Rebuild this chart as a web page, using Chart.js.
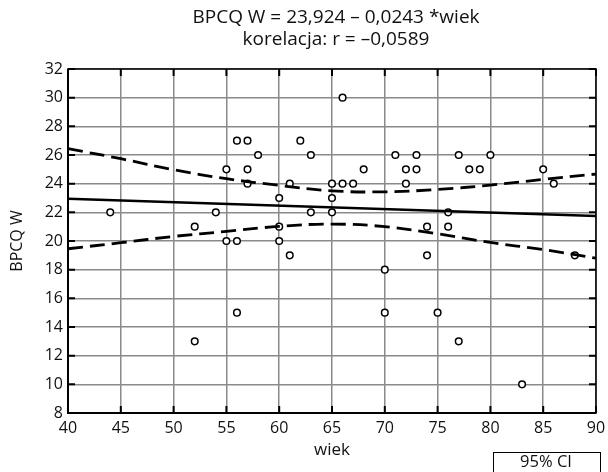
<!DOCTYPE html>
<html><head><meta charset="utf-8">
<script src="https://cdn.jsdelivr.net/npm/chart.js@4/dist/chart.umd.min.js"></script>
<style>html,body{margin:0;padding:0;background:#fff}#wrap{width:608px;height:472px}</style>
</head><body><div id="wrap"><canvas id="c" width="608" height="472"></canvas></div>
<script>
const titleLines = ["BPCQ W = 23,924 \u2013 0,0243 *wiek", "korelacja: r = \u20130,0589"];
const xTitle = "wiek";
const yTitle = "BPCQ W";
const legendText = "95% CI";
const wiek = [44,52,52,54,55,55,56,56,56,57,57,57,58,60,60,60,61,61,62,63,63,65,65,65,66,66,67,68,70,70,71,72,72,73,73,74,74,75,76,76,77,77,78,79,80,83,85,86,88];
const bpcq = [22,21,13,22,25,20,27,20,15,27,25,24,26,23,21,20,24,19,27,26,22,24,23,22,30,24,24,25,18,15,26,25,24,26,25,21,19,15,22,21,26,13,25,25,26,10,25,24,19];
const regX = [40, 90];
const regY = [22.95, 21.74];
const ciX = [40,45,50,55,60,65,70,75,80,85,90];
const ciUpper = [26.44,25.74,24.97,24.35,23.88,23.5,23.43,23.6,23.9,24.3,24.67];
const ciLower = [19.46,19.88,20.32,20.67,21.02,21.18,21.0,20.5,19.9,19.4,18.8];

const FONT = "'Open Sans', 'DejaVu Sans', sans-serif";
const pts = (xs, ys) => xs.map((x, i) => ({x: x, y: ys[i]}));

const framePlugin = {
  id: 'frame',
  beforeDatasetsDraw(chart) {
    const {ctx, chartArea: a, scales} = chart;
    ctx.save();
    ctx.strokeStyle = '#000';
    ctx.lineWidth = 2;
    const L = 7;
    scales.x.ticks.forEach(t => {
      const px = scales.x.getPixelForValue(t.value);
      ctx.beginPath();
      ctx.moveTo(px, a.bottom); ctx.lineTo(px, a.bottom - L);
      ctx.moveTo(px, a.top); ctx.lineTo(px, a.top + L);
      ctx.stroke();
    });
    scales.y.ticks.forEach(t => {
      const py = scales.y.getPixelForValue(t.value);
      ctx.beginPath();
      ctx.moveTo(a.left, py); ctx.lineTo(a.left + L, py);
      ctx.moveTo(a.right, py); ctx.lineTo(a.right - L, py);
      ctx.stroke();
    });
    ctx.lineWidth = 1.5;
    ctx.strokeRect(a.left, a.top, a.right - a.left, a.bottom - a.top);
    ctx.lineWidth = 2;
    ctx.beginPath();
    ctx.moveTo(a.left, a.top); ctx.lineTo(a.left, a.bottom); ctx.lineTo(a.right, a.bottom);
    ctx.stroke();
    ctx.restore();
  },
  afterDraw(chart) {
    const {ctx} = chart;
    ctx.save();
    ctx.fillStyle = '#111';
    ctx.textAlign = 'center';
    ctx.textBaseline = 'middle';
    ctx.font = "19px " + FONT;
    const cx = 336;
    ctx.fillText(titleLines[0], cx, 18);
    ctx.fillText(titleLines[1], cx, 40);
    // legend box
    ctx.strokeStyle = '#000';
    ctx.lineWidth = 1;
    ctx.strokeRect(493.5, 452.5, 107, 30);
    ctx.font = "16.5px " + FONT;
    ctx.fillText(legendText, 546, 462);
    ctx.restore();
  }
};

new Chart(document.getElementById('c'), {
  type: 'scatter',
  data: {
    datasets: [
      {label: 'upper', type: 'line', data: pts(ciX, ciUpper), borderColor: '#000', borderWidth: 2.8, borderDash: [15, 7], pointRadius: 0, tension: 0.4, fill: false},
      {label: 'lower', type: 'line', data: pts(ciX, ciLower), borderColor: '#000', borderWidth: 2.8, borderDash: [15, 7], pointRadius: 0, tension: 0.4, fill: false},
      {label: 'reg', type: 'line', data: pts(regX, regY), borderColor: '#000', borderWidth: 2.5, pointRadius: 0, fill: false},
      {label: 'data', data: pts(wiek, bpcq), pointRadius: 3.3, pointBackgroundColor: '#fff', pointBorderColor: '#000', pointBorderWidth: 1.5}
    ]
  },
  options: {
    responsive: false,
    animation: false,
    clip: false,
    layout: {padding: {top: 69, right: 12, bottom: 9, left: 0}},
    plugins: {legend: {display: false}, title: {display: false}, tooltip: {enabled: false}},
    scales: {
      x: {
        type: 'linear', min: 40, max: 90,
        ticks: {stepSize: 5, color: '#111', font: {family: FONT, size: 16}, padding: 6},
        grid: {color: '#8a8a8a', lineWidth: 1.5, drawTicks: false},
        border: {display: false},
        title: {display: true, text: xTitle, color: '#111', font: {family: FONT, size: 17}, padding: {top: 2, bottom: 3}},
        afterFit(s) { s.height = 50; s.paddingLeft = 0; s.paddingRight = 0; }
      },
      y: {
        min: 8, max: 32,
        ticks: {stepSize: 2, color: '#111', font: {family: FONT, size: 16}, padding: 5},
        grid: {color: '#8a8a8a', lineWidth: 1.5, drawTicks: false},
        border: {display: false},
        title: {display: true, text: yTitle, color: '#111', font: {family: FONT, size: 16}, padding: {top: 8, bottom: 0}},
        afterFit(s) { s.width = 68; s.paddingTop = 0; s.paddingBottom = 0; }
      }
    }
  },
  plugins: [framePlugin]
});
</script></body></html>
